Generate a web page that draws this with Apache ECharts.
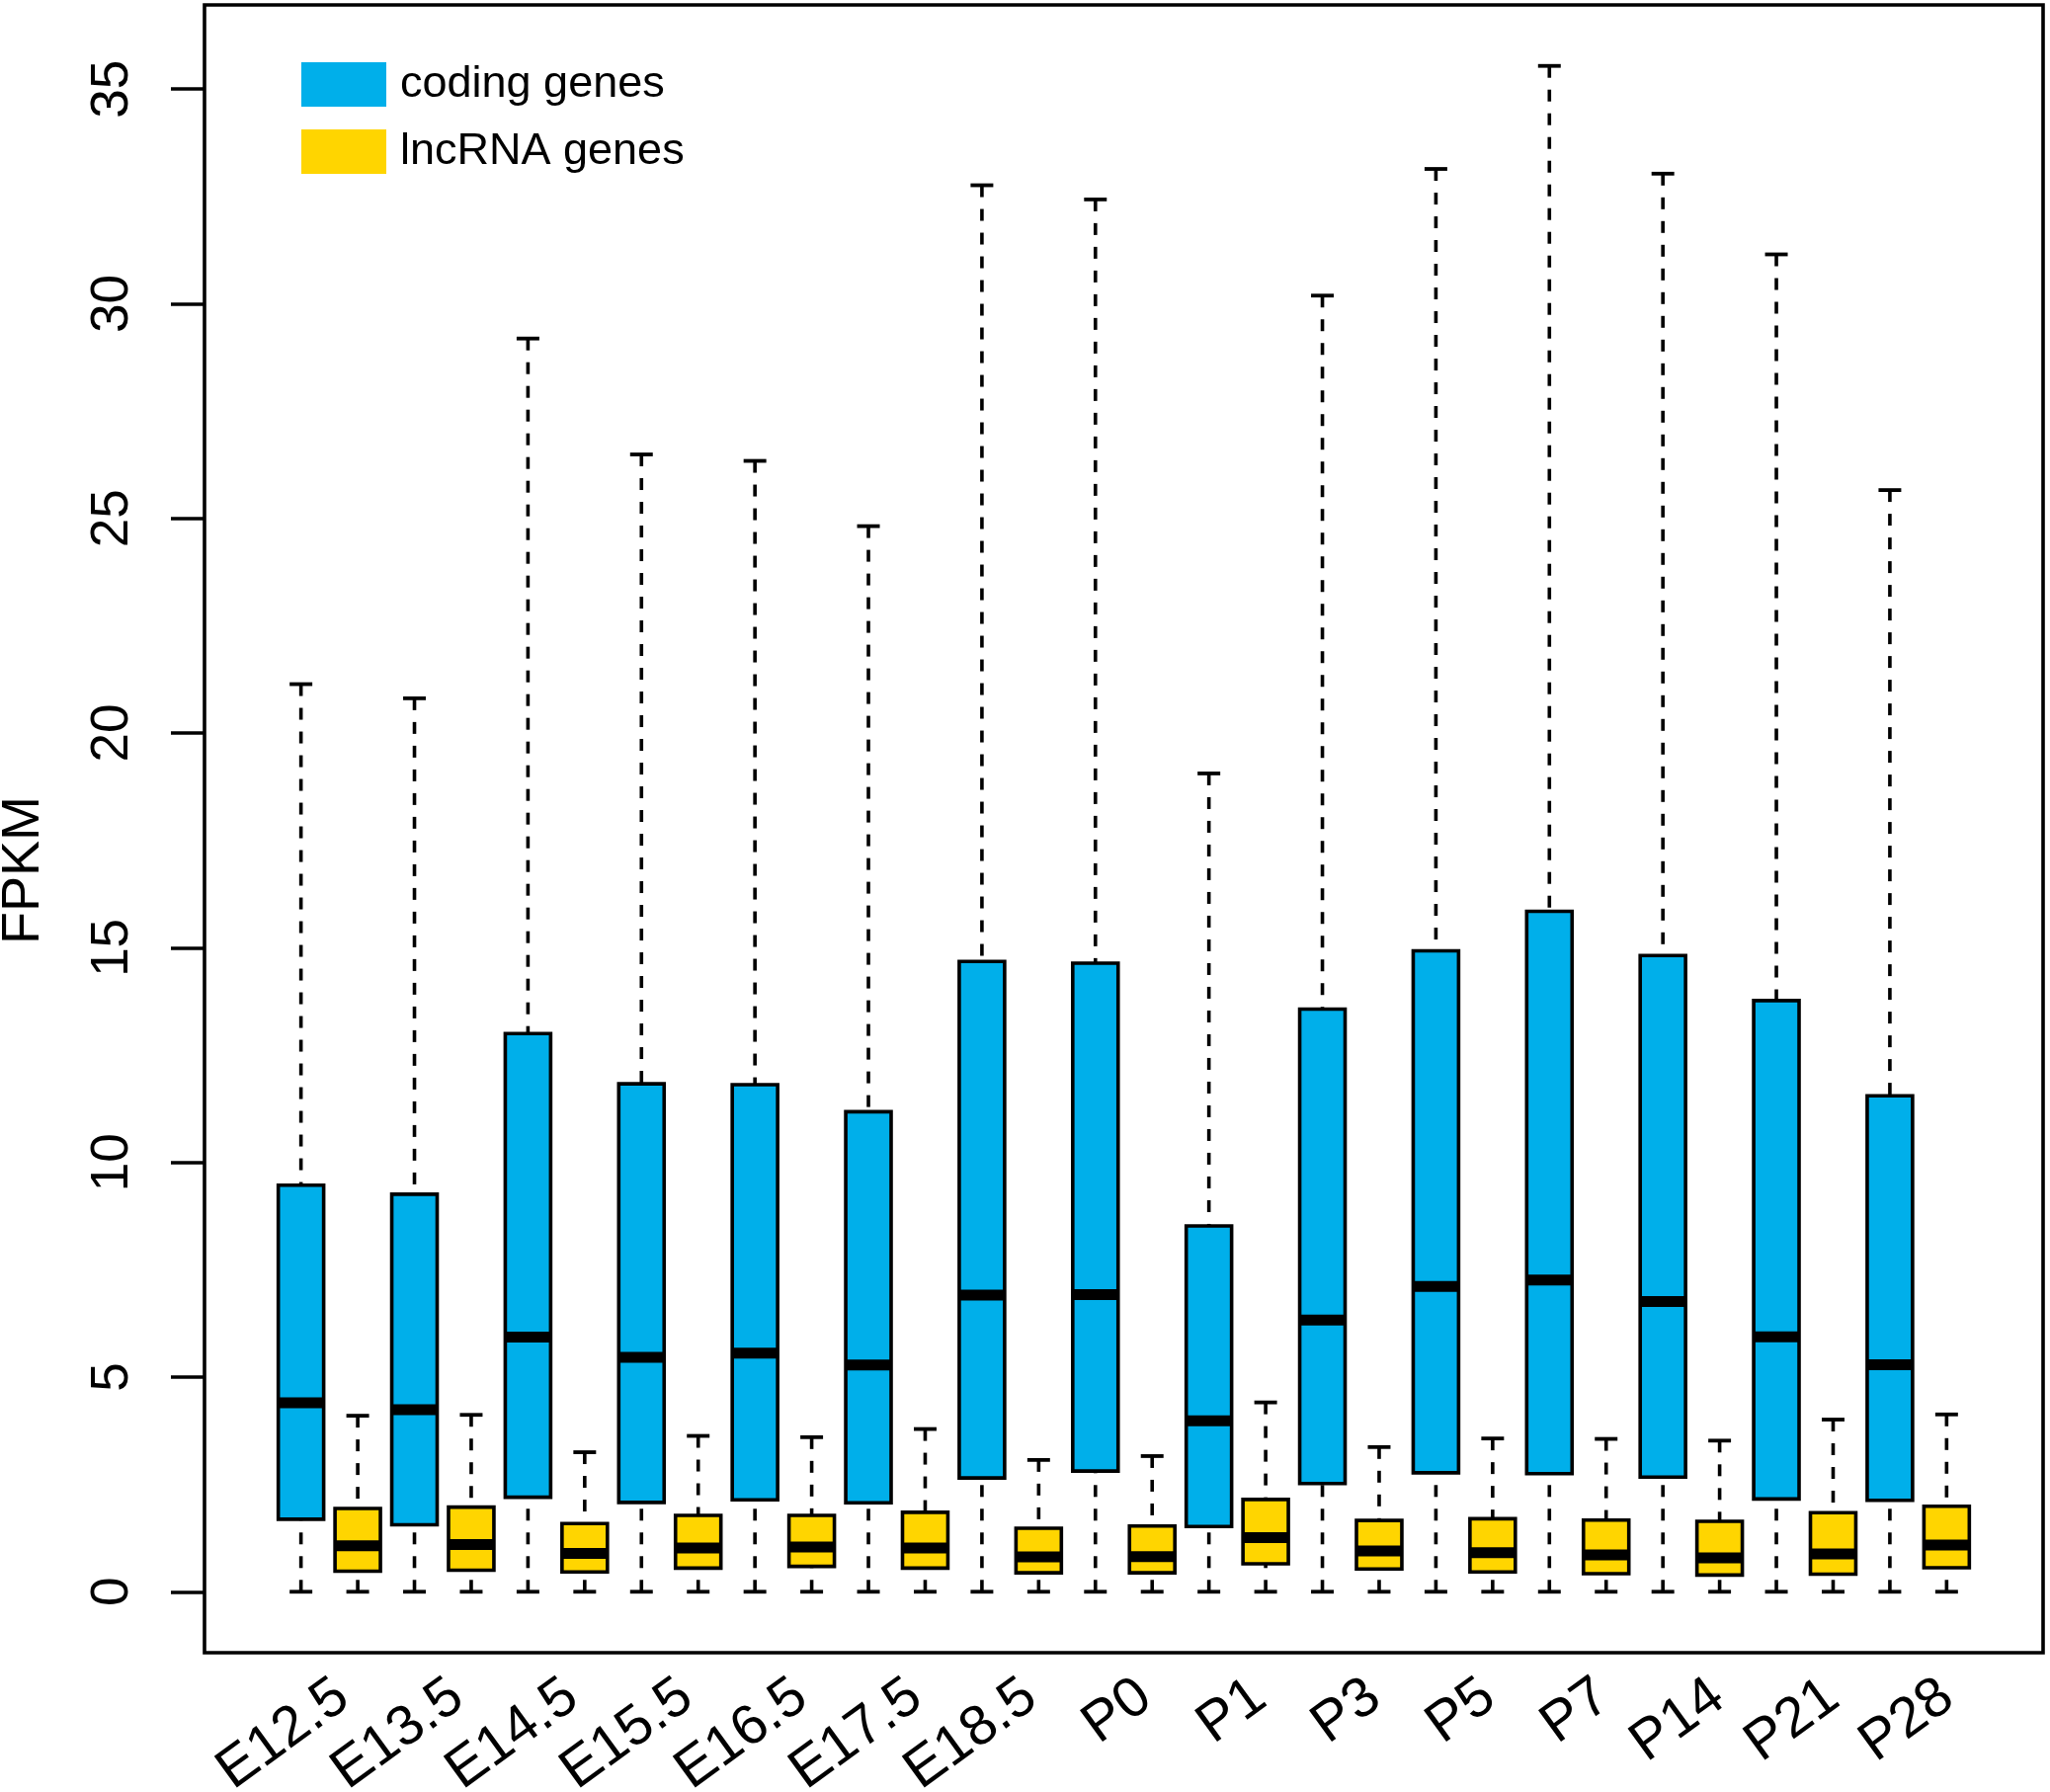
<!DOCTYPE html>
<html>
<head>
<meta charset="utf-8">
<script src="https://cdn.jsdelivr.net/npm/echarts@6/dist/echarts.min.js"></script>
<style>
  html, body { margin: 0; padding: 0; background: #fff; }
  #chart { width: 2075px; height: 1814px; }
</style>
</head>
<body>
<div id="chart"></div>
<script>
// ---- data ----
const categories = ['E12.5','E13.5','E14.5','E15.5','E16.5','E17.5','E18.5','P0','P1','P3','P5','P7','P14','P21','P28'];

const codingMin    = [0,0,0,0,0,0,0,0,0,0,0,0,0,0,0];
const codingQ1     = [1.69,1.56,2.20,2.08,2.14,2.07,2.65,2.81,1.52,2.52,2.77,2.75,2.67,2.16,2.13];
const codingMedian = [4.40,4.24,5.93,5.46,5.56,5.28,6.91,6.92,3.98,6.33,7.11,7.26,6.76,5.94,5.29];
const codingQ3     = [9.47,9.26,13.00,11.83,11.81,11.18,14.68,14.64,8.52,13.57,14.93,15.85,14.82,13.77,11.55];
const codingMax    = [21.14,20.81,29.19,26.49,26.34,24.82,32.76,32.43,19.06,30.19,33.14,35.54,33.03,31.15,25.66];

const lncMin    = [0,0,0,0,0,0,0,0,0,0,0,0,0,0,0];
const lncQ1     = [0.48,0.50,0.46,0.55,0.59,0.55,0.44,0.44,0.65,0.53,0.46,0.42,0.39,0.41,0.56];
const lncMedian = [1.07,1.10,0.89,1.02,1.04,1.02,0.81,0.82,1.26,0.95,0.91,0.86,0.79,0.88,1.09];
const lncQ3     = [1.94,1.97,1.59,1.78,1.78,1.85,1.48,1.53,2.15,1.66,1.70,1.67,1.64,1.84,1.99];
const lncMax    = [4.10,4.12,3.25,3.63,3.60,3.79,3.07,3.16,4.41,3.37,3.57,3.56,3.52,4.01,4.13];

const yTicks = [0,5,10,15,20,25,30,35];
const seriesNames = ['coding genes','lncRNA genes'];

// ---- styles ----
const BLUE = '#00AFEA';
const GOLD = '#FFD500';
const FONT = '"Liberation Sans", Arial, Helvetica, sans-serif';
const BOX_OFFSET = 0.25;   // in group units
const BOX_HALF = 0.2;
const CAP_HALF = 0.1;
const LABEL_SHIFT = 0.12;  // label anchor offset (layout only)
const LABEL_DRIFT = 0.01;

function buildData(mins, q1s, meds, q3s, maxs) {
  return categories.map((c, i) => [i, mins[i], q1s[i], meds[i], q3s[i], maxs[i]]);
}

const labelPositions = categories.map((c, i) => i + LABEL_SHIFT + LABEL_DRIFT * i);

function makeRender(offset, color) {
  return function (params, api) {
    const i = api.value(0);
    const lo = api.value(1), q1 = api.value(2), med = api.value(3), q3 = api.value(4), hi = api.value(5);
    const cx = api.coord([i + offset, 0])[0];
    const half = api.size([BOX_HALF, 0])[0];
    const cap = api.size([CAP_HALF, 0])[0];
    const yLo = api.coord([i, lo])[1];
    const yQ1 = api.coord([i, q1])[1];
    const yMed = api.coord([i, med])[1];
    const yQ3 = api.coord([i, q3])[1];
    const yHi = api.coord([i, hi])[1];
    const dash = { stroke: '#000', lineWidth: 3.6, lineDash: [12, 12] };
    const solid = { stroke: '#000', lineWidth: 3.8 };
    return {
      type: 'group',
      children: [
        { type: 'line', shape: { x1: cx, y1: yHi, x2: cx, y2: yQ3 }, style: dash },
        { type: 'line', shape: { x1: cx, y1: yLo, x2: cx, y2: yQ1 }, style: dash },
        { type: 'line', shape: { x1: cx - cap, y1: yHi, x2: cx + cap, y2: yHi }, style: solid },
        { type: 'line', shape: { x1: cx - cap, y1: yLo, x2: cx + cap, y2: yLo }, style: solid },
        { type: 'rect', shape: { x: cx - half, y: yQ3, width: 2 * half, height: yQ1 - yQ3 },
          style: { fill: color, stroke: '#000', lineWidth: 3.6 } },
        { type: 'line', shape: { x1: cx - half, y1: yMed, x2: cx + half, y2: yMed },
          style: { stroke: '#000', lineWidth: 11 } }
      ]
    };
  };
}

const chart = echarts.init(document.getElementById('chart'), null, { renderer: 'canvas' });

chart.setOption({
  backgroundColor: '#fff',
  animation: false,
  textStyle: { fontFamily: FONT },
  grid: {
    left: 207, top: 5, width: 1861, height: 1668,
    containLabel: false,
    outerBoundsMode: 'none',
    show: true, borderColor: '#000', borderWidth: 3.6, backgroundColor: 'transparent'
  },
  legend: {
    orient: 'vertical',
    left: 305, top: 63,
    padding: 0,
    itemWidth: 86, itemHeight: 45, itemGap: 23,
    icon: 'rect',
    itemStyle: { borderWidth: 0 },
    textStyle: { fontSize: 45, color: '#000', fontFamily: FONT, padding: [0, 0, 0, 9] },
    data: [
      { name: seriesNames[0], itemStyle: { color: BLUE } },
      { name: seriesNames[1], itemStyle: { color: GOLD } }
    ]
  },
  xAxis: {
    type: 'value',
    min: -1.1, max: 15.1,
    axisLine: { show: false, onZero: false },
    axisTick: { show: false },
    splitLine: { show: false },
    axisLabel: {
      customValues: labelPositions,
      formatter: v => {
        let best = 0;
        labelPositions.forEach((p, i) => { if (Math.abs(p - v) < Math.abs(labelPositions[best] - v)) best = i; });
        return categories[best];
      },
      rotate: 36,
      margin: 39,
      fontSize: 57,
      color: '#000',
      fontFamily: FONT
    }
  },
  yAxis: {
    type: 'value',
    min: -1.42, max: 36.96,
    axisLine: { show: false, onZero: false },
    splitLine: { show: false },
    axisTick: {
      show: true, inside: false, length: 34,
      customValues: yTicks,
      lineStyle: { color: '#000', width: 3.6 }
    },
    axisLabel: {
      customValues: yTicks,
      rotate: 90,
      margin: 66,
      fontSize: 53,
      color: '#000',
      fontFamily: FONT
    }
  },
  graphic: [
    {
      type: 'text',
      x: 24, y: 881,
      rotation: Math.PI / 2,
      style: { text: 'FPKM', fontSize: 54, fontFamily: FONT, fill: '#000', align: 'center', verticalAlign: 'middle' }
    }
  ],
  series: [
    {
      name: seriesNames[0],
      type: 'custom',
      itemStyle: { color: BLUE },
      renderItem: makeRender(-BOX_OFFSET, BLUE),
      encode: { x: 0, y: [1, 2, 3, 4, 5] },
      data: buildData(codingMin, codingQ1, codingMedian, codingQ3, codingMax)
    },
    {
      name: seriesNames[1],
      type: 'custom',
      itemStyle: { color: GOLD },
      renderItem: makeRender(BOX_OFFSET, GOLD),
      encode: { x: 0, y: [1, 2, 3, 4, 5] },
      data: buildData(lncMin, lncQ1, lncMedian, lncQ3, lncMax)
    }
  ]
});
</script>
</body>
</html>
